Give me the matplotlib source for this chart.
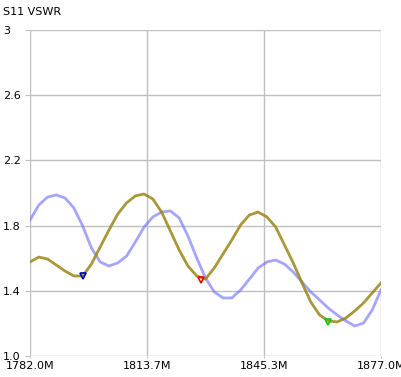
import matplotlib
matplotlib.use('Agg')
import matplotlib.pyplot as plt
import numpy as np

# frequency axis (MHz), 41 sweep points
freq = np.linspace(1782.0, 1877.0, 41)

vswr_blue = [1.834, 1.926, 1.975, 1.988, 1.969, 1.908, 1.798, 1.663, 1.577, 1.552,
             1.571, 1.613, 1.699, 1.791, 1.853, 1.883, 1.890, 1.847, 1.736, 1.601,
             1.479, 1.393, 1.356, 1.356, 1.405, 1.472, 1.540, 1.577, 1.589, 1.564,
             1.515, 1.454, 1.393, 1.344, 1.294, 1.252, 1.215, 1.184, 1.202, 1.282,
             1.405]

vswr_olive = [1.577, 1.607, 1.595, 1.558, 1.521, 1.491, 1.491, 1.564, 1.669, 1.773,
              1.871, 1.939, 1.982, 1.994, 1.963, 1.883, 1.767, 1.650, 1.552, 1.491,
              1.472, 1.540, 1.626, 1.712, 1.804, 1.865, 1.883, 1.853, 1.791, 1.681,
              1.571, 1.448, 1.331, 1.252, 1.215, 1.209, 1.233, 1.276, 1.325, 1.387,
              1.448]

marker_freq = [1796.3, 1828.3, 1862.7]
marker_vswr = [1.49, 1.466, 1.21]
marker_colors = ['#0000c0', '#ff0000', '#00cc00']

xticks = [1782.0, 1813.7, 1845.3, 1877.0]
xtick_labels = ['1782.0M', '1813.7M', '1845.3M', '1877.0M']
yticks = [1.0, 1.4, 1.8, 2.2, 2.6, 3.0]
ytick_labels = ['1.0', '1.4', '1.8', '2.2', '2.6', '3']

fig = plt.figure(figsize=(4.01, 3.77), dpi=100)
ax = fig.add_axes([30 / 401, 21 / 377, 351 / 401, 326 / 377])

ax.plot(freq, vswr_blue, color='#6a6aff', alpha=0.6, linewidth=2.0, zorder=3)
ax.plot(freq, vswr_olive, color='#9a8616', alpha=0.85, linewidth=2.0, zorder=4)

for f, v, c in zip(marker_freq, marker_vswr, marker_colors):
    ax.plot(f, v, marker='v', markersize=5, markerfacecolor='none',
            markeredgecolor=c, markeredgewidth=1.2, zorder=5)

ax.set_xlim(1782.0, 1877.0)
ax.set_ylim(1.0, 3.0)
ax.set_xticks(xticks)
ax.set_xticklabels(xtick_labels)
ax.set_yticks(yticks)
ax.set_yticklabels(ytick_labels)

for s in ax.spines.values():
    s.set_visible(False)
ax.grid(True, color='#c0c0c0', linewidth=1)
ax.set_axisbelow(True)
ax.tick_params(axis='y', length=3.6, color='#c0c0c0', pad=15.8, labelsize=8)
ax.tick_params(axis='x', length=1.5, color='#c0c0c0', pad=2, labelsize=8)
for lbl in ax.get_yticklabels():
    lbl.set_horizontalalignment('left')

fig.text(3 / 401, 1 - 12 / 377, 'S11 VSWR', fontsize=8, va='center', ha='left')

fig.savefig('out.png', dpi=100)
